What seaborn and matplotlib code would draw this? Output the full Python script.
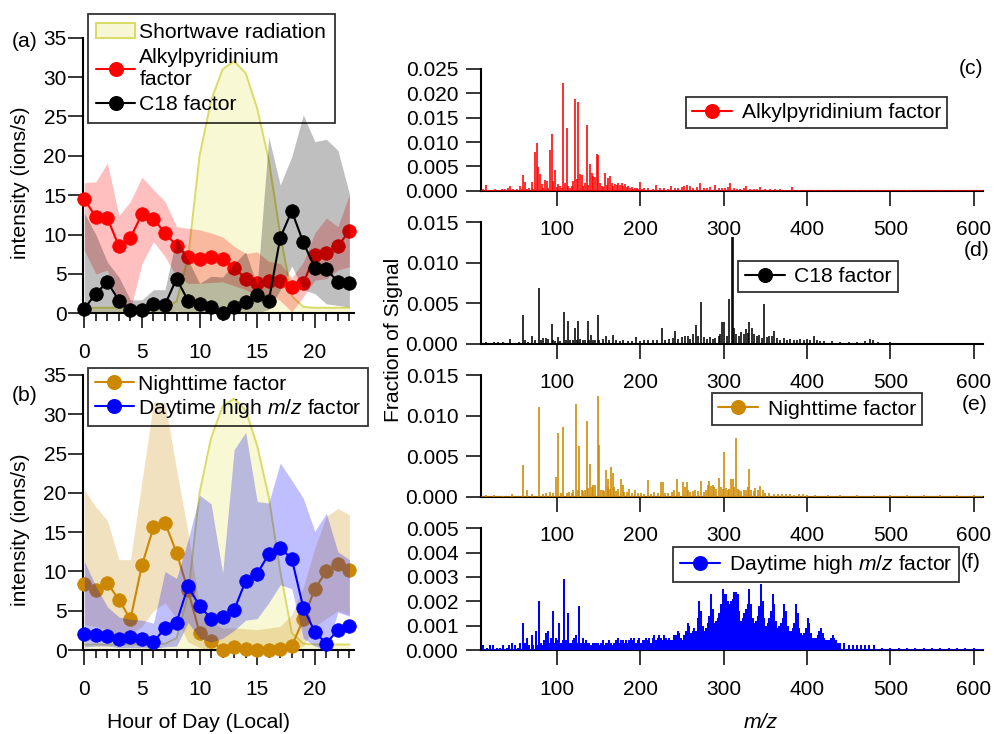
import matplotlib
matplotlib.use("Agg")
import matplotlib.pyplot as plt
import seaborn as sns
from matplotlib.lines import Line2D
from matplotlib.patches import Patch
from matplotlib.ticker import FormatStrFormatter

# ---------------- diurnal data (hour of day) ----------------
hours = list(range(24))
shortwave = [0.7, 0.7, 0.7, 0.7, 0.7, 0.7, 0.7, 0.8, 1.5, 7.0, 20.0, 27.0,
             31.0, 32.0, 30.5, 26.0, 19.5, 10.0, 2.2, 0.8, 0.7, 0.7, 0.7, 0.7]

alkyl = [14.5, 12.2, 12.1, 8.5, 9.6, 12.6, 12.0, 10.2, 8.6, 7.2, 6.9, 7.1,
         6.9, 5.8, 4.4, 3.9, 4.1, 4.1, 3.3, 3.8, 7.4, 7.7, 8.5, 10.5]
alkyl_hi = [16.6, 16.7, 19.1, 12.4, 14.2, 17.3, 15.7, 14.2, 11.0, 10.8, 10.6, 10.2,
            9.7, 8.5, 7.6, 7.8, 6.6, 6.3, 4.5, 6.5, 10.2, 12.1, 11.0, 15.1]
alkyl_lo = [8.0, 5.0, 5.5, 1.0, 0.5, 6.3, 9.1, 7.2, 4.7, 3.8, 3.8, 3.9,
            4.0, 3.5, 3.0, 2.1, 2.5, 1.6, 0.2, 2.1, 4.2, 4.4, 5.5, 5.9]

c18 = [0.6, 2.5, 4.0, 1.6, 0.4, 0.4, 1.2, 1.1, 4.4, 1.6, 1.2, 0.8,
       0.0, 0.8, 1.4, 2.3, 1.5, 9.6, 13.0, 9.0, 5.8, 5.6, 4.0, 3.9]
c18_hi = [12.7, 10.0, 6.5, 4.6, 1.7, 1.7, 3.0, 3.0, 9.7, 6.8, 3.8, 4.7,
          4.6, 6.3, 7.8, 3.5, 22.4, 16.3, 19.9, 25.2, 21.8, 22.1, 20.7, 15.2]
c18_lo = [0.0, 0.0, 0.0, 0.0, 0.0, 0.0, 0.0, 0.0, 0.3, 0.0, 0.0, 0.0,
          0.0, 0.0, 0.0, 0.0, 0.5, 3.0, 6.0, 3.0, 2.5, 1.2, 1.0, 0.8]

night = [8.4, 7.7, 8.5, 6.4, 3.9, 10.8, 15.6, 16.2, 12.4, 7.6, 2.2, 1.2,
         0.0, 0.4, 0.1, 0.0, 0.0, 0.1, 0.5, 3.9, 7.8, 10.0, 10.9, 10.2]
night_hi = [20.4, 18.2, 16.5, 11.5, 11.5, 21.5, 31.5, 31.5, 23.0, 15.0, 5.5, 3.5,
            2.8, 2.8, 2.7, 2.6, 2.8, 3.0, 4.5, 8.0, 13.0, 17.0, 18.0, 17.2]
night_lo = [3.2, 3.0, 2.5, 2.0, 2.0, 3.0, 5.0, 6.0, 4.0, 1.0, 0.3, 0.0,
            0.0, 0.0, 0.0, 0.0, 0.0, 0.0, 0.0, 0.5, 3.0, 4.0, 5.0, 4.5]

day = [2.0, 1.9, 1.8, 1.4, 1.6, 1.4, 1.0, 2.8, 3.5, 8.1, 5.6, 4.0,
       4.2, 5.1, 8.8, 9.7, 12.2, 13.0, 11.6, 5.4, 2.3, 0.8, 2.6, 3.1]
day_hi = [11.3, 8.1, 5.5, 4.2, 3.9, 3.8, 3.4, 10.0, 9.1, 14.0, 19.7, 18.6,
          9.8, 25.5, 27.7, 18.9, 18.7, 23.8, 21.6, 19.3, 15.1, 17.4, 12.5, 11.5]
day_lo = [0.4, 0.5, 0.5, 0.3, 0.3, 0.3, 0.2, 0.4, 0.5, 3.5, 1.5, 1.0,
          1.5, 2.5, 3.8, 4.0, 6.0, 8.3, 7.8, 1.5, 0.5, 0.0, 4.8, 4.3]

# ---------------- factor mass spectra (m/z, fraction of signal) ----------------
alkyl_spectrum = [
    (12, .0003), (15, .0011), (18, .0002), (22, .0002), (26, .0003), (30, .0002), (34, .0003),
    (38, .0004), (41, .0005), (44, .0010), (48, .0003), (52, .0004), (56, .0010), (58, .0004),
    (60, .0032), (62, .0017), (64, .0003), (67, .0005), (70, .0017), (72, .0004), (74, .0080),
    (76, .0097), (78, .0049), (80, .0034), (82, .0014), (84, .0005), (86, .0022), (88, .0020),
    (90, .0006), (92, .0084), (94, .0116), (96, .0020), (98, .0042), (100, .0008), (102, .0014),
    (104, .0010), (106, .0005), (108, .0221), (110, .0015), (112, .0129), (114, .0010),
    (116, .0006), (118, .0009), (120, .0020), (122, .0188), (124, .0025), (126, .0182),
    (128, .0034), (130, .0032), (132, .0010), (134, .0015), (136, .0134), (138, .0012),
    (140, .0054), (142, .0036), (144, .0030), (146, .0028), (148, .0075), (150, .0073),
    (152, .0015), (154, .0010), (156, .0008), (158, .0036), (160, .0012), (162, .0027),
    (164, .0031), (166, .0015), (168, .0010), (170, .0013), (172, .0011), (174, .0015),
    (176, .0012), (178, .0015), (180, .0010), (182, .0013), (184, .0007), (186, .0009),
    (188, .0005), (190, .0007), (192, .0004), (194, .0006), (196, .0005), (198, .0004),
    (200, .0018), (202, .0004), (205, .0005), (210, .0006), (215, .0004), (219, .0012),
    (224, .0005), (229, .0006), (233, .0004), (237, .0010), (242, .0006), (246, .0005),
    (250, .0007), (253, .0010), (256, .0012), (260, .0009), (264, .0006), (268, .0008),
    (272, .0015), (276, .0006), (280, .0005), (284, .0007), (290, .0011), (294, .0006),
    (298, .0005), (302, .0006), (305, .0008), (308, .0015), (312, .0006), (316, .0004),
    (320, .0004), (324, .0005), (327, .0009), (332, .0004), (336, .0003), (340, .0004),
    (344, .0007), (350, .0003), (356, .0004), (362, .0003), (368, .0003), (374, .0002),
    (382, .0007), (390, .0002), (398, .0002), (410, .0002), (420, .0002), (430, .0002),
    (445, .0002), (460, .0002), (480, .0002), (500, .0002), (520, .0002), (540, .0002),
    (560, .0002), (580, .0002), (600, .0002),
]

c18_spectrum = [
    (15, .0002), (25, .0002), (30, .0002), (35, .0002), (44, .0006), (55, .0002), (60, .0036),
    (62, .0005), (66, .0002), (70, .0009), (74, .0004), (79, .0069), (81, .0004), (84, .0007),
    (87, .0007), (90, .0006), (94, .0024), (96, .0004), (98, .0003), (101, .0008), (104, .0003),
    (109, .0039), (111, .0005), (113, .0028), (116, .0004), (119, .0005), (122, .0019),
    (124, .0005), (126, .0028), (128, .0006), (131, .0004), (134, .0004), (137, .0028),
    (139, .0005), (141, .0011), (143, .0005), (146, .0004), (149, .0035), (151, .0005),
    (155, .0006), (159, .0009), (163, .0005), (167, .0011), (171, .0004), (176, .0003),
    (180, .0005), (185, .0003), (190, .0003), (195, .0008), (200, .0003), (205, .0004),
    (210, .0005), (215, .0004), (220, .0005), (226, .0020), (230, .0005), (235, .0006),
    (240, .0007), (242, .0016), (246, .0006), (250, .0008), (254, .0010), (257, .0009),
    (260, .0006), (264, .0012), (267, .0023), (270, .0010), (273, .0051), (276, .0008),
    (280, .0006), (284, .0008), (287, .0006), (290, .0007), (294, .0009), (296, .0012),
    (298, .0027), (301, .0027), (304, .0009), (307, .0055), (310, .0132), (311, .0132),
    (313, .0020), (315, .0012), (318, .0010), (321, .0015), (324, .0012), (327, .0018),
    (329, .0013), (331, .0027), (334, .0020), (337, .0012), (340, .0010), (343, .0011),
    (346, .0007), (349, .0049), (352, .0008), (355, .0009), (358, .0010), (361, .0016),
    (364, .0007), (368, .0005), (372, .0007), (376, .0005), (380, .0006), (384, .0004),
    (388, .0005), (392, .0006), (396, .0004), (400, .0006), (404, .0005), (408, .0009),
    (412, .0004), (416, .0003), (420, .0003), (430, .0003), (440, .0002), (450, .0002),
    (460, .0002), (470, .0003), (476, .0006), (479, .0005), (485, .0002), (500, .0002),
    (520, .0001), (540, .0001), (560, .0001), (580, .0001), (600, .0001),
]

night_spectrum = [
    (15, .0002), (25, .0002), (35, .0001), (46, .0003), (60, .0039), (64, .0008), (70, .0003),
    (79, .0111), (83, .0004), (87, .0005), (92, .0006), (96, .0005), (99, .0024), (102, .0079),
    (105, .0005), (108, .0086), (112, .0005), (115, .0006), (118, .0005), (120, .0009),
    (123, .0114), (125, .0008), (127, .0063), (130, .0008), (132, .0007), (134, .0009),
    (136, .0094), (138, .0011), (140, .0040), (142, .0012), (144, .0015), (146, .0015),
    (149, .0124), (151, .0064), (153, .0009), (155, .0008), (157, .0007), (159, .0033),
    (161, .0012), (162, .0022), (164, .0010), (165, .0037), (167, .0029), (169, .0012),
    (171, .0007), (174, .0010), (177, .0022), (179, .0015), (181, .0006), (184, .0006),
    (187, .0010), (190, .0005), (194, .0009), (197, .0005), (201, .0005), (205, .0004),
    (210, .0021), (213, .0004), (217, .0006), (221, .0005), (225, .0018), (227, .0018),
    (230, .0005), (234, .0005), (238, .0006), (241, .0008), (244, .0022), (247, .0006),
    (252, .0018), (254, .0012), (256, .0018), (258, .0008), (260, .0006), (263, .0007),
    (266, .0009), (269, .0007), (273, .0020), (276, .0006), (279, .0008), (281, .0014),
    (283, .0020), (285, .0013), (287, .0014), (289, .0012), (291, .0010), (294, .0023),
    (297, .0012), (299, .0010), (301, .0055), (303, .0011), (305, .0009), (307, .0010),
    (309, .0022), (311, .0022), (313, .0012), (315, .0072), (317, .0010), (319, .0008),
    (321, .0007), (324, .0009), (327, .0008), (329, .0012), (331, .0034), (333, .0008),
    (336, .0007), (338, .0011), (341, .0009), (344, .0013), (347, .0008), (350, .0005),
    (355, .0005), (360, .0004), (365, .0004), (370, .0003), (375, .0003), (380, .0003),
    (385, .0002), (390, .0003), (395, .0003), (400, .0002), (410, .0002), (425, .0002),
    (440, .0002), (460, .0002), (480, .0002), (500, .0002), (520, .0002), (540, .0002),
    (560, .0002), (580, .0002), (600, .0002),
]

day_spectrum = [
    (12, .0002), (16, .0001), (20, .0002), (24, .0002), (28, .0001), (32, .0001), (36, .0002),
    (40, .0001), (43, .0002), (46, .0003), (50, .0002), (53, .0001), (56, .0003), (60, .0011),
    (62, .0003), (64, .0005), (67, .0002), (70, .0006), (72, .0002), (75, .0008), (77, .0002),
    (79, .0020), (81, .0003), (83, .0002), (85, .0004), (87, .0007), (89, .0008), (91, .0003),
    (93, .0005), (95, .0016), (97, .0003), (99, .0005), (101, .0004), (103, .0011), (105, .0003),
    (107, .0004), (109, .0029), (111, .0004), (113, .0015), (115, .0003), (117, .0003),
    (119, .0004), (121, .0005), (123, .0006), (125, .0003), (127, .0018), (129, .0003),
    (131, .0005), (133, .0003), (135, .0004), (137, .0003), (139, .0003), (141, .0002),
    (143, .0003), (145, .0003), (147, .0003), (149, .0003), (151, .0002), (153, .0003),
    (155, .0004), (157, .0002), (159, .0003), (161, .0003), (163, .0004), (165, .0003),
    (167, .0002), (169, .0003), (171, .0004), (173, .0005), (175, .0003), (177, .0004),
    (179, .0004), (181, .0003), (183, .0004), (185, .0003), (187, .0004), (189, .0005),
    (191, .0004), (193, .0005), (195, .0003), (197, .0004), (199, .0005), (201, .0003),
    (203, .0004), (205, .0004), (207, .0005), (209, .0004), (211, .0005), (213, .0003),
    (215, .0005), (217, .0006), (219, .0004), (221, .0005), (223, .0006), (225, .0005),
    (227, .0004), (229, .0006), (231, .0005), (233, .0004), (235, .0005), (237, .0004),
    (239, .0004), (241, .0006), (243, .0006), (245, .0008), (247, .0007), (249, .0005),
    (251, .0004), (253, .0006), (255, .0008), (257, .0011), (259, .0010), (261, .0007),
    (263, .0008), (265, .0009), (267, .0008), (269, .0013), (271, .0020), (273, .0016),
    (275, .0010), (277, .0008), (279, .0009), (281, .0011), (283, .0014), (285, .0023),
    (287, .0017), (289, .0011), (291, .0012), (293, .0013), (295, .0015), (297, .0019),
    (299, .0025), (301, .0023), (303, .0023), (305, .0020), (307, .0019), (309, .0020),
    (311, .0021), (313, .0024), (315, .0024), (317, .0023), (319, .0016), (321, .0012),
    (323, .0013), (325, .0015), (327, .0017), (329, .0019), (331, .0025), (333, .0019),
    (335, .0013), (337, .0011), (339, .0012), (341, .0014), (343, .0018), (345, .0027),
    (347, .0020), (349, .0013), (351, .0010), (353, .0011), (355, .0013), (357, .0016),
    (359, .0023), (361, .0019), (363, .0012), (365, .0009), (367, .0010), (369, .0011),
    (371, .0013), (373, .0019), (375, .0016), (377, .0010), (379, .0008), (381, .0008),
    (383, .0009), (385, .0011), (387, .0019), (389, .0015), (391, .0009), (393, .0007),
    (395, .0006), (397, .0007), (399, .0009), (401, .0013), (403, .0011), (405, .0007),
    (407, .0005), (409, .0005), (411, .0005), (413, .0006), (415, .0008), (417, .0009),
    (419, .0007), (421, .0005), (423, .0004), (425, .0004), (427, .0004), (429, .0005),
    (431, .0006), (433, .0005), (435, .0004), (437, .0003), (440, .0003), (445, .0003),
    (450, .0002), (455, .0002), (460, .0002), (465, .0002), (470, .0002), (475, .0002),
    (480, .0002), (490, .0001), (500, .0001), (510, .0001), (520, .0001), (530, .0001),
    (540, .0001), (550, .0001), (560, .0001), (570, .0001), (580, .0001), (590, .0001),
    (600, .0001),
]

# ---------------- styling ----------------
RED, BLACK, ORANGE, BLUE = "#FF0000", "#000000", "#CC8800", "#0000FF"
SW_FACE = (0.92, 0.92, 0.45)
SW_EDGE = (0.86, 0.86, 0.40)

sns.set_theme(style="ticks")
plt.rcParams["font.family"] = ["Liberation Sans", "DejaVu Sans"]
plt.rcParams.update({
    "mathtext.fontset": "custom",
    "mathtext.rm": "Liberation Sans",
    "mathtext.it": "Liberation Sans:italic",
    "axes.edgecolor": "black",
    "xtick.color": "black",
    "ytick.color": "black",
    "text.color": "black",
})

W, H = 996, 734
fig = plt.figure(figsize=(W / 100, H / 100), dpi=100)
fig.patch.set_facecolor("white")
FS_TICK = 15
FS_TXT = 15.2


def px_axes(left, top, right, bottom):
    return fig.add_axes([left / W, 1 - bottom / H, (right - left) / W, (bottom - top) / H])


def style_common(ax):
    for s in ["top", "right"]:
        ax.spines[s].set_visible(False)
    for s in ["left", "bottom"]:
        ax.spines[s].set_linewidth(1.5)
        ax.spines[s].set_color("black")
    ax.set_xlabel("")
    ax.set_ylabel("")
    ax.grid(False)
    ax.set_facecolor("none")


def style_diurnal(ax):
    style_common(ax)
    ax.set_xlim(-0.09, 23.4)
    ax.set_ylim(0, 35)
    ax.set_yticks(range(0, 36, 5))
    ax.set_xticks([0, 5, 10, 15, 20])
    ax.set_xticks(hours, minor=True)
    ax.tick_params(axis="both", which="major", direction="out", length=10.8, width=1.1,
                   labelsize=FS_TICK)
    ax.tick_params(axis="y", which="major", pad=1.2)
    ax.tick_params(axis="x", which="major", pad=10.8)
    ax.tick_params(axis="x", which="minor", direction="out", length=5.8, width=1.1)


def band(ax, lo, hi, color, alpha, z):
    ax.fill_between(hours, lo, hi, color=color, alpha=alpha, lw=0, zorder=z)


def diurnal_line(ax, vals, color, z):
    sns.lineplot(x=hours, y=vals, ax=ax, color=color, marker="o", markersize=9.8,
                 markeredgecolor=color, markeredgewidth=0.5, linewidth=1.5,
                 zorder=z, clip_on=False)


def shortwave_fill(ax):
    ax.fill_between(hours, 0, shortwave, facecolor=SW_FACE, alpha=0.3, lw=0, zorder=1)
    sns.lineplot(x=hours, y=shortwave, ax=ax, color=SW_EDGE, linewidth=1.4, zorder=1.5)


def line_handle(color):
    return Line2D([], [], color=color, marker="o", markersize=9.8, markeredgecolor=color,
                  linewidth=1.5)


def frame_legend(ax, handles, labels, x0, y0, **kw):
    leg = ax.legend(handles, labels, loc="upper left",
                    bbox_to_anchor=(x0 / W, 1 - y0 / H), bbox_transform=fig.transFigure,
                    frameon=True, fancybox=False, edgecolor="black", fontsize=FS_TXT,
                    borderaxespad=0, **kw)
    fr = leg.get_frame()
    fr.set_facecolor("none")
    fr.set_linewidth(1.3)
    leg.set_zorder(10)
    return leg


# ---------------- panel (a) ----------------
ax_a = px_axes(83.3, 37.7, 354, 313.3)
shortwave_fill(ax_a)
band(ax_a, alkyl_lo, alkyl_hi, RED, 0.25, 2)
diurnal_line(ax_a, alkyl, RED, 3)
band(ax_a, c18_lo, c18_hi, BLACK, 0.25, 4)
diurnal_line(ax_a, c18, BLACK, 5)
style_diurnal(ax_a)

frame_legend(
    ax_a,
    [Patch(facecolor=(0.97, 0.97, 0.84), edgecolor=SW_EDGE, linewidth=1.4),
     line_handle(RED), line_handle(BLACK)],
    ["Shortwave radiation", "Alkylpyridinium\nfactor", "C18 factor"],
    87.7, 14.3, borderpad=0.4, labelspacing=0.3, handlelength=1.85, handletextpad=0.2)

# ---------------- panel (b) ----------------
ax_b = px_axes(83.3, 375, 354, 650)
shortwave_fill(ax_b)
band(ax_b, night_lo, night_hi, ORANGE, 0.25, 2)
diurnal_line(ax_b, night, ORANGE, 3)
band(ax_b, day_lo, day_hi, BLUE, 0.25, 4)
diurnal_line(ax_b, day, BLUE, 5)
style_diurnal(ax_b)

frame_legend(
    ax_b, [line_handle(ORANGE), line_handle(BLUE)],
    ["Nighttime factor", "Daytime high $m/z$ factor"],
    88.3, 368.3, borderpad=0.3, labelspacing=0.15, handlelength=1.85, handletextpad=0.2)

# ---------------- spectra panels ----------------
spec_specs = [
    (alkyl_spectrum, RED, 69.0, 190.7, 0.025, 0.005, "Alkylpyridinium factor", (685.7, 96.7), "(c)", (970.5, 68.3)),
    (c18_spectrum, BLACK, 222.3, 343.7, 0.015, 0.005, "C18 factor", (738.3, 260.7), "(d)", (977, 251)),
    (night_spectrum, ORANGE, 375.3, 496.8, 0.015, 0.005, "Nighttime factor", (711.7, 393.3), "(e)", (975, 404)),
    (day_spectrum, BLUE, 528.2, 650.0, 0.005, 0.001, "Daytime high $m/z$ factor", (673.3, 546.7), "(f)", (971, 562)),
]

for spec, color, top, bottom, ymax, ystep, label, lpos, letter, tpos in spec_specs:
    ax = px_axes(481, top, 983.3, bottom)
    mz = [p[0] for p in spec]
    frac = [p[1] for p in spec]
    lw = 1.45 if color == BLUE else 1.15
    ax.vlines(mz, 0, frac, colors=color, linewidth=lw, zorder=3)
    ax.axhline(0, color=color, linewidth=1.8, zorder=3)
    style_common(ax)
    ax.set_xlim(9.2, 611.5)
    ax.set_ylim(0, ymax)
    nticks = int(round(ymax / ystep))
    ax.set_yticks([i * ystep for i in range(nticks + 1)])
    ax.yaxis.set_major_formatter(FormatStrFormatter("%.3f"))
    ax.set_xticks([100, 200, 300, 400, 500, 600])
    ax.tick_params(axis="both", which="major", direction="out", length=10.8, width=1.1,
                   labelsize=FS_TICK)
    ax.tick_params(axis="y", pad=5.5)
    ax.tick_params(axis="x", pad=10.5)
    frame_legend(ax, [line_handle(color)], [label], lpos[0], lpos[1],
                 borderpad=0.3, handlelength=1.9, handletextpad=0.45)
    fig.text(tpos[0] / W, 1 - tpos[1] / H, letter, ha="center", va="center", fontsize=FS_TXT)

# ---------------- labels ----------------
fig.text(25 / W, 1 - 41.7 / H, "(a)", ha="center", va="center", fontsize=FS_TXT)
fig.text(25 / W, 1 - 395.7 / H, "(b)", ha="center", va="center", fontsize=FS_TXT)
fig.text(20 / W, 1 - 182.5 / H, "intensity (ions/s)", rotation=90, ha="center", va="center",
         fontsize=FS_TXT)
fig.text(20 / W, 1 - 530 / H, "intensity (ions/s)", rotation=90, ha="center", va="center",
         fontsize=FS_TXT)
fig.text(198.3 / W, 1 - 722 / H, "Hour of Day (Local)", ha="center", va="center", fontsize=FS_TXT)
fig.text(393.3 / W, 1 - 340 / H, "Fraction of Signal", rotation=90, ha="center", va="center",
         fontsize=FS_TXT)
fig.text(761 / W, 1 - 723 / H, "m/z", ha="center", va="center", fontsize=FS_TXT, style="italic")

fig.savefig("out.png", dpi=100, facecolor="white")
